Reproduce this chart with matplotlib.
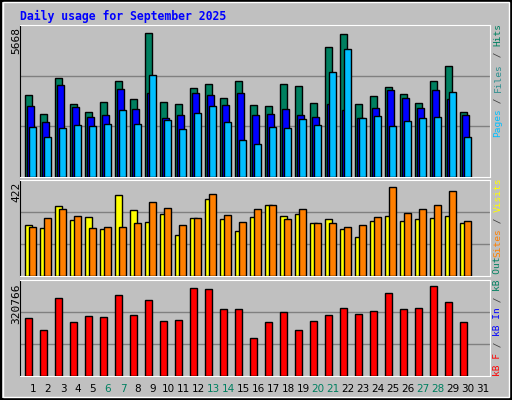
import matplotlib
matplotlib.use("Agg")
import matplotlib.pyplot as plt
import numpy as np

days = list(range(1, 32))
weekends = [6, 7, 13, 14, 20, 21, 27, 28]
hits = [3152, 2404, 3787, 2778, 2479, 2853, 3675, 2965, 5506, 2853, 2778, 3413, 3563, 3002, 3675,
        2741, 2703, 3563, 3488, 2815, 4983, 5469, 2778, 3114, 3451, 3189, 2815, 3675, 4235, 2479]
files = [2703, 2105, 3525, 2666, 2292, 2367, 3376, 2591, 3226, 2255, 2367, 3226, 3152, 2741, 3226,
         2367, 2404, 2591, 2367, 2292, 2778, 2554, 2255, 2628, 3338, 3002, 2628, 3338, 2965, 2367]
pages = [1918, 1545, 1881, 1993, 1956, 2030, 2554, 2030, 3899, 2180, 1844, 2442, 2703, 2105, 1433,
         1246, 1918, 1881, 2217, 1993, 4011, 4908, 2255, 2329, 1956, 2143, 2255, 2292, 3264, 1545]
visits = [232, 215, 315, 254, 267, 210, 364, 298, 245, 280, 184, 263, 346, 258, 201,
          267, 320, 272, 280, 241, 258, 210, 175, 250, 272, 250, 258, 263, 272, 237]
sites = [219, 263, 302, 272, 215, 219, 223, 237, 333, 307, 228, 263, 368, 276, 245,
         302, 320, 258, 302, 241, 237, 219, 228, 267, 403, 285, 302, 320, 381, 250]
kbytes = [199645, 155902, 266941, 186186, 206374, 203010, 277035, 209739, 260211, 189550, 192915,
          300589, 297224, 229928, 229928, 128984, 186186, 219834, 155902, 189550, 209739, 233293,
          213104, 223198, 283765, 229928, 233293, 307318, 253482, 186186]
max1, max2, max3 = 5668, 422, 320766

BG = "#c0c0c0"
W, H = 512, 400
fig = plt.figure(figsize=(5.12, 4.0), dpi=100, facecolor=BG)
fig.patches.append(plt.Rectangle((0.002, 0.003), 0.996, 0.994, transform=fig.transFigure,
                                 fill=False, edgecolor="black", linewidth=1.5))
fig.patches.append(plt.Rectangle((0.006, 0.008), 0.988, 0.986, transform=fig.transFigure,
                                 fill=False, edgecolor="white", linewidth=1))

def px_axes(top, bottom):
    return fig.add_axes([20 / W, 1 - bottom / H, 470 / W, (bottom - top) / H])

x = np.arange(1, 31)
bw = 7 / 15
def style(ax, ymax):
    ax.set_facecolor(BG)
    ax.set_xlim(0.27, 31.6)
    ax.set_ylim(0, ymax * 1.025)
    for g in (ymax * 1.025 / 3, ymax * 1.025 * 2 / 3):
        ax.axhline(g, color="#808080", linewidth=1, zorder=0)
    ax.set_xticks([]); ax.set_yticks([])
    ax.spines["left"].set_color("black")
    for s in ("top", "right", "bottom"):
        ax.spines[s].set_color("white")

ax1 = px_axes(25, 177)
style(ax1, max1)
kw = dict(width=bw, align="edge", edgecolor="black", linewidth=1, zorder=3)
ax1.bar(x - 0.4, hits, color="#008060", **kw)
ax1.bar(x - 0.267, files, color="#0000ff", **kw)
ax1.bar(x - 0.133, pages, color="#00bfff", **kw)

ax2 = px_axes(180, 276)
style(ax2, max2)
ax2.bar(x - 0.4, visits, color="#ffff00", **kw)
ax2.bar(x - 0.133, sites, color="#ff8000", **kw)

ax3 = px_axes(280, 376)
style(ax3, max3)
ax3.bar(x - 0.4, kbytes, color="#ff0000", **kw)

def ftext(xp, yp, s, **k):
    fig.text(xp / W, 1 - yp / H, s, **k)

ftext(20, 16, "Daily usage for September 2025", color="#0000ff", fontsize=8.3,
      family="DejaVu Sans Mono", fontweight="bold", va="center")
for yp, lab in ((27, str(max1)), (182, str(max2)), (283, str(max3))):
    ftext(16, yp, lab, rotation=90, fontsize=8, va="top", ha="center", family="DejaVu Sans Mono")

cw = 0.6 * 6.8 * 100 / 72
def vlabel(ybot, parts):
    y = ybot
    for s, c in parts:
        ftext(498, y, s, rotation=90, fontsize=6.8, color=c, family="DejaVu Sans Mono",
              va="bottom", ha="center")
        y -= cw * len(s)

vlabel(137, [("Pages", "#00bfff"), (" / ", "#404040"), ("Files", "#2f8f8f"),
             (" / ", "#404040"), ("Hits", "#008060")])
vlabel(257, [("Sites", "#ff8000"), (" / ", "#404040"), ("Visits", "#ffff00")])
vlabel(376, [("kB F", "#ff0000"), (" / ", "#404040"), ("kB In", "#0000ff"),
             (" / ", "#404040"), ("kB Out", "#008060")])

for d in days:
    xp = 31 + 15 * (d - 1) + 2
    ftext(xp, 389, str(d), fontsize=7.5, ha="center", va="center",
          color="#008060" if d in weekends else "black")

fig.savefig("out.png", dpi=100, facecolor=BG)
